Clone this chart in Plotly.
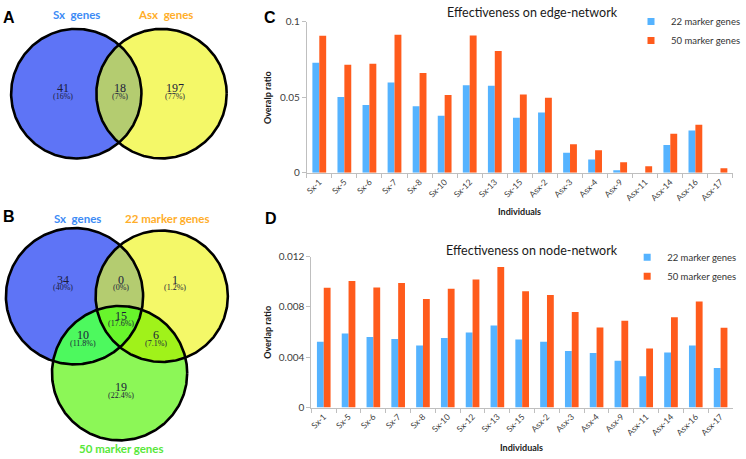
import numpy as np
import plotly.graph_objects as go

# ---------------- data ----------------
individuals = ["Sx-1", "Sx-5", "Sx-6", "Sx-7", "Sx-8", "Sx-10", "Sx-12", "Sx-13", "Sx-15",
               "Asx-2", "Asx-3", "Asx-4", "Asx-9", "Asx-11", "Asx-14", "Asx-16", "Asx-17"]
edge_22 = [0.0729, 0.0502, 0.0449, 0.0598, 0.0442, 0.0378, 0.0581, 0.0577, 0.0365,
           0.0400, 0.0133, 0.0088, 0.0017, 0.0, 0.0184, 0.0280, 0.0]
edge_50 = [0.0908, 0.0716, 0.0722, 0.0915, 0.0662, 0.0515, 0.0910, 0.0808, 0.0519,
           0.0498, 0.0190, 0.0150, 0.0071, 0.0043, 0.0259, 0.0318, 0.0030]
node_22 = [0.00523, 0.00588, 0.00560, 0.00544, 0.00493, 0.00552, 0.00596, 0.00653, 0.00540,
           0.00523, 0.00449, 0.00434, 0.00372, 0.00248, 0.00438, 0.00493, 0.00314]
node_50 = [0.00952, 0.01006, 0.00954, 0.00991, 0.00862, 0.00945, 0.01017, 0.01117, 0.00924,
           0.00895, 0.00759, 0.00637, 0.00691, 0.00469, 0.00717, 0.00844, 0.00635]
series_names = ["22 marker genes", "50 marker genes"]
edge_ticks = [0, 0.05, 0.1]
edge_ticktext = ["0", "0.05", "0.1"]
node_ticks = [0, 0.004, 0.008, 0.012]
node_ticktext = ["0", "0.004", "0.008", "0.012"]

venn_a_sets = ["Sx  genes", "Asx  genes"]
venn_a_counts = ["41", "18", "197"]
venn_a_pcts = ["(16%)", "(7%)", "(77%)"]
venn_b_sets = ["Sx  genes", "22 marker genes", "50 marker genes"]
venn_b_counts = ["34", "0", "1", "10", "15", "6", "19"]
venn_b_pcts = ["(40%)", "(0%)", "(1.2%)", "(11.8%)", "(17.6%)", "(7.1%)", "(22.4%)"]

# ---------------- styles / geometry ----------------
W, H = 746, 459
BLUE_BAR = "#55B3FF"
ORANGE_BAR = "#FF5B1C"
AXIS_COL = "#BFBFBF"
TICK_COL = "#404040"
SANS = "Lato, Open Sans, sans-serif"
SERIF = "Liberation Serif, DejaVu Serif, serif"

# venn circles in pixel units (cx, cy, r)
A_SX = (75.8, 89.0, 66.5)
A_ASX = (162.8, 89.0, 66.5)
B_SX = (74.0, 297.0, 70.0)
B_22 = (163.0, 297.0, 67.5)
B_50 = (120.0, 376.0, 69.0)

C_VENN_BLUE = "#5E74F6"
C_VENN_YEL = "#F4F868"
C_VENN_GRN = "#8CF757"
C_AB = "#B4CC70"
C_AC = "#4DF95E"
C_BC = "#A0F21A"
C_ABC = "#68F52C"


def circle_xy(c, n=360):
    t = np.linspace(0, 2 * np.pi, n + 1)
    return c[0] + c[2] * np.cos(t), c[1] + c[2] * np.sin(t)


def disc_intersection(discs, n=1440):
    xs, ys = [], []
    for i, (cx, cy, r) in enumerate(discs):
        t = np.linspace(0, 2 * np.pi, n, endpoint=False)
        px = cx + r * np.cos(t)
        py = cy + r * np.sin(t)
        mask = np.ones(n, dtype=bool)
        for j, (ox, oy, orr) in enumerate(discs):
            if j != i:
                mask &= (px - ox) ** 2 + (py - oy) ** 2 <= orr ** 2 + 1e-6
        xs.append(px[mask])
        ys.append(py[mask])
    xs = np.concatenate(xs)
    ys = np.concatenate(ys)
    mx, my = xs.mean(), ys.mean()
    order = np.argsort(np.arctan2(ys - my, xs - mx))
    xs, ys = xs[order], ys[order]
    return np.append(xs, xs[0]), np.append(ys, ys[0])


fig = go.Figure()

# ---------------- venn fills ----------------
def add_fill(x, y, color):
    fig.add_trace(go.Scatter(x=x, y=y, mode="lines", fill="toself", fillcolor=color,
                             line=dict(width=0, color=color), hoverinfo="skip",
                             showlegend=False, xaxis="x3", yaxis="y3"))


def add_outline(c):
    x, y = circle_xy(c)
    fig.add_trace(go.Scatter(x=x, y=y, mode="lines", line=dict(width=2.6, color="black"),
                             hoverinfo="skip", showlegend=False, xaxis="x3", yaxis="y3"))


for c, col in [(A_SX, C_VENN_BLUE), (A_ASX, C_VENN_YEL),
               (B_SX, C_VENN_BLUE), (B_22, C_VENN_YEL), (B_50, C_VENN_GRN)]:
    x, y = circle_xy(c)
    add_fill(x, y, col)

for discs, col in [([A_SX, A_ASX], C_AB), ([B_SX, B_22], C_AB), ([B_SX, B_50], C_AC),
                   ([B_22, B_50], C_BC), ([B_SX, B_22, B_50], C_ABC)]:
    x, y = disc_intersection(discs)
    add_fill(x, y, col)

for c in [A_SX, A_ASX, B_SX, B_22, B_50]:
    add_outline(c)

# ---------------- bars ----------------
for vals, name, col, xa, ya in [(edge_22, series_names[0], BLUE_BAR, "x", "y"),
                                (edge_50, series_names[1], ORANGE_BAR, "x", "y"),
                                (node_22, series_names[0], BLUE_BAR, "x2", "y2"),
                                (node_50, series_names[1], ORANGE_BAR, "x2", "y2")]:
    fig.add_trace(go.Bar(x=individuals, y=vals, name=name, marker=dict(color=col, line=dict(width=0)),
                         showlegend=False, xaxis=xa, yaxis=ya))

# legend entries (small square markers)
for name, col, lg in [(series_names[0], BLUE_BAR, "legend"), (series_names[1], ORANGE_BAR, "legend"),
                      (series_names[0], BLUE_BAR, "legend2"), (series_names[1], ORANGE_BAR, "legend2")]:
    fig.add_trace(go.Scatter(x=[None], y=[None], mode="markers", name=name,
                             marker=dict(symbol="square", size=7, color=col),
                             legend=lg, xaxis="x" if lg == "legend" else "x2",
                             yaxis="y" if lg == "legend" else "y2"))

# ---------------- annotations ----------------
ann = []


def txt(x, y, s, size, color="black", bold=False, family=SANS, ref="paper", angle=0, xanchor="center"):
    if bold:
        s = "<b>" + s + "</b>"
    if ref == "paper":
        xx, yy, xr, yr = x / W, 1 - y / H, "paper", "paper"
    else:
        xx, yy, xr, yr = x, y, "x3", "y3"
    ann.append(dict(x=xx, y=yy, xref=xr, yref=yr, text=s, showarrow=False, textangle=angle,
                    font=dict(size=size, color=color, family=family), xanchor=xanchor,
                    yanchor="middle"))


# panel letters
txt(7, 11, "A", 16, bold=True, family="Liberation Sans, Arial")
txt(7, 215, "B", 16, bold=True, family="Liberation Sans, Arial")
txt(273, 11, "C", 16, bold=True, family="Liberation Sans, Arial")
txt(275, 217, "D", 16, bold=True, family="Liberation Sans, Arial")

# venn set labels
SET_BLUE = "#3D8BF5"
SET_ORANGE = "#FFAE2A"
SET_GREEN = "#58E83A"
txt(76, 8, venn_a_sets[0], 11.5, SET_BLUE, bold=True)
txt(167, 8, venn_a_sets[1], 11.5, SET_ORANGE, bold=True)
txt(77, 217, venn_b_sets[0], 11.5, SET_BLUE, bold=True)
txt(169, 217, venn_b_sets[1], 11.5, SET_ORANGE, bold=True)
txt(122, 453, venn_b_sets[2], 11.5, SET_GREEN, bold=True)

NUM_COL = "#1B1B3A"
a_pos = [(62, 83), (120, 83), (177, 83)]
for (x, y), n, p in zip(a_pos, venn_a_counts, venn_a_pcts):
    txt(x, y, n, 12, NUM_COL, family=SERIF, ref="venn")
    txt(x, y + 8.5, p, 8, NUM_COL, family=SERIF, ref="venn")
b_pos = [(62, 280), (121, 280), (177, 280), (83, 337), (121, 317), (157, 337), (121, 390)]
for (x, y), n, p in zip(b_pos, venn_b_counts, venn_b_pcts):
    txt(x, y, n, 12, NUM_COL, family=SERIF, ref="venn")
    txt(x, y + 8.5, p, 8, NUM_COL, family=SERIF, ref="venn")

# chart titles and axis titles
txt(541, 6, "Effectiveness on edge-network", 12.5, "#1a1a1a")
txt(541, 250, "Effectiveness on node-network", 12.5, "#1a1a1a")
txt(528, 210, "Individuals", 9, "#1a1a1a", bold=True)
txt(530, 452, "Individuals", 9, "#1a1a1a", bold=True)
txt(271, 93, "Overalp ratio", 9, "#1a1a1a", bold=True, angle=-90)
txt(271, 334, "Overlap ratio", 9, "#1a1a1a", bold=True, angle=-90)

# ---------------- layout ----------------
xcommon = dict(type="category", tickangle=-45, ticks="outside", tickson="boundaries", ticklen=4,
               tickcolor=AXIS_COL, showline=True, linecolor=AXIS_COL, linewidth=1, showgrid=False,
               tickfont=dict(size=8.5, color=TICK_COL, family=SANS), range=[-0.5, 16.5], fixedrange=True)
ycommon = dict(ticks="outside", ticklen=4, tickcolor=AXIS_COL, showline=True, linecolor=AXIS_COL,
               linewidth=1, showgrid=False, zeroline=False,
               tickfont=dict(size=10, color=TICK_COL, family=SANS), fixedrange=True)

fig.update_layout(
    width=W, height=H, margin=dict(l=0, r=0, t=0, b=0), autosize=False,
    paper_bgcolor="white", plot_bgcolor="white",
    barmode="group", bargap=0.45, bargroupgap=0,
    xaxis=dict(domain=[311 / W, 1], anchor="y", **xcommon),
    yaxis=dict(domain=[1 - 170.3 / H, 1 - 15.3 / H], anchor="x", range=[0, 0.1],
               tickvals=edge_ticks, ticktext=edge_ticktext, **ycommon),
    xaxis2=dict(domain=[315.7 / W, 1], anchor="y2", **xcommon),
    yaxis2=dict(domain=[1 - 411.3 / H, 1 - 256.3 / H], anchor="x2", range=[0, 0.012],
                tickvals=node_ticks, ticktext=node_ticktext, **ycommon),
    xaxis3=dict(domain=[0, 240 / W], anchor="y3", range=[0, 240], visible=False, fixedrange=True),
    yaxis3=dict(domain=[0, 1], anchor="x3", range=[H, 0], visible=False, fixedrange=True),
    legend=dict(x=642 / W, y=1.0, xanchor="left", yanchor="top", bgcolor="rgba(0,0,0,0)",
                font=dict(size=9.5, color="#333333", family=SANS), itemwidth=30, tracegroupgap=0),
    legend2=dict(x=638 / W, y=1 - 242 / H, xanchor="left", yanchor="top", bgcolor="rgba(0,0,0,0)",
                 font=dict(size=9.5, color="#333333", family=SANS), itemwidth=30, tracegroupgap=0),
    annotations=ann,
)

fig.write_html("out.html", config={"displayModeBar": False},
               post_script="document.documentElement.style.margin='0';"
                           "document.body.style.margin='0';"
                           "document.body.style.overflow='hidden';")
